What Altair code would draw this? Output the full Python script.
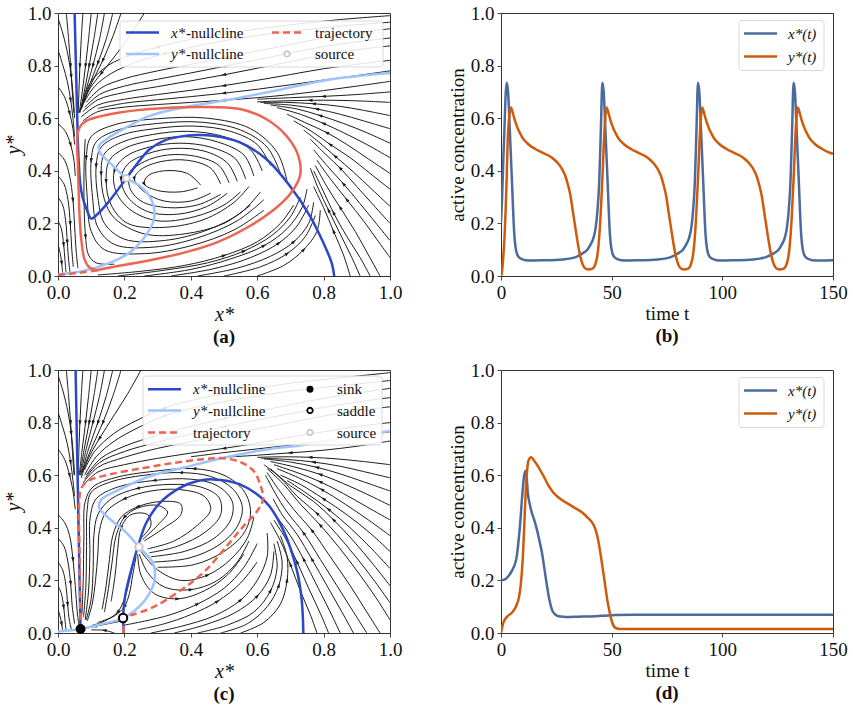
import math

import altair as alt
import pandas as pd

SERIF = "Liberation Serif"
W, H = 332, 263

C_XNULL = "#2d47c7"
C_YNULL = "#9ec4ff"
C_TRAJ = "#ec6550"
C_STREAM = "#1c1c1c"
C_XT = "#4c6a9b"
C_YT = "#cf5a0c"

# ---------------- panel (b): sustained oscillation ----------------
tx_b = [0, 0.5, 1.0, 1.6, 2.1, 2.6, 3.2, 4.0, 5.0, 6.0, 7.0, 8.0, 9.5, 11, 15, 20, 25, 28, 31, 34,
        37, 39, 40.5, 41.8, 42.8, 43.6, 44.4, 45.1, 45.8,
        46.4, 47.2, 48.2, 49.2, 50.2, 51.2, 52.7, 54.2, 58, 63, 68, 71, 74, 77, 80.2, 82.2, 83.7, 85.0,
        86.0, 86.8, 87.6, 88.3, 89.0,
        89.6, 90.4, 91.4, 92.4, 93.4, 94.4, 95.9, 97.4, 101, 106, 111, 114, 117, 120, 123.4, 125.4, 126.9,
        128.2, 129.2, 130.0, 130.8, 131.5, 132.2,
        132.8, 133.6, 134.6, 135.6, 136.6, 137.6, 139.1, 140.6, 145, 150]
x_b = [0.20, 0.30, 0.43, 0.57, 0.69, 0.735, 0.70, 0.55, 0.35, 0.16, 0.09, 0.072, 0.064, 0.060, 0.059, 0.060,
       0.061, 0.063, 0.066, 0.073, 0.087, 0.100, 0.120, 0.145, 0.185, 0.25, 0.36, 0.55, 0.735,
       0.70, 0.55, 0.35, 0.16, 0.09, 0.072, 0.064, 0.060, 0.059, 0.060, 0.061, 0.063, 0.066, 0.073, 0.087,
       0.100, 0.120, 0.145, 0.185, 0.25, 0.36, 0.55, 0.735,
       0.70, 0.55, 0.35, 0.16, 0.09, 0.072, 0.064, 0.060, 0.059, 0.060, 0.061, 0.063, 0.066, 0.073, 0.087,
       0.100, 0.120, 0.145, 0.185, 0.25, 0.36, 0.55, 0.735,
       0.70, 0.55, 0.35, 0.16, 0.09, 0.072, 0.064, 0.060, 0.059, 0.060]
ty_b = [0, 0.5, 1.06, 1.6, 2.1, 2.6, 3.0, 3.5, 4.0, 4.5,
        5.5, 6.5, 9.5, 12.5, 15.5, 18.5, 21.5, 24.0, 26.0, 27.5, 29.0, 30.3, 31.4, 32.4, 33.3, 34.3, 35.2,
        36.1, 37.0, 38.2, 39.7, 41.0, 42.0, 42.8, 43.5, 44.3, 45.0, 45.8, 46.5, 47.1, 47.7,
        48.7, 49.7, 52.7, 55.7, 58.7, 61.7, 64.7, 67.2, 69.2, 70.7, 72.2, 73.5, 74.6, 75.6, 76.5, 77.5, 78.4,
        79.3, 80.2, 81.4, 82.9, 84.2, 85.2, 86.0, 86.7, 87.5, 88.2, 89.0, 89.7, 90.3, 90.9,
        91.9, 92.9, 95.9, 98.9, 101.9, 104.9, 107.9, 110.4, 112.4, 113.9, 115.4, 116.7, 117.8, 118.8, 119.7,
        120.7, 121.6, 122.5, 123.4, 124.6, 126.1, 127.4, 128.4, 129.2, 129.9, 130.7, 131.4, 132.2, 132.9,
        133.5, 134.1,
        135.1, 136.1, 139.1, 142.1, 145.1, 148.1, 150]
y_b = [0.0, 0.02, 0.076, 0.15, 0.25, 0.38, 0.51, 0.585, 0.625, 0.641,
       0.615, 0.585, 0.528, 0.50, 0.483, 0.47, 0.458, 0.443, 0.426, 0.408, 0.382, 0.345, 0.305, 0.25, 0.20,
       0.145, 0.10, 0.065, 0.042, 0.028, 0.025, 0.027, 0.033, 0.05, 0.076, 0.14, 0.23, 0.37, 0.51, 0.60, 0.641,
       0.615, 0.585, 0.528, 0.50, 0.483, 0.47, 0.458, 0.443, 0.426, 0.408, 0.382, 0.345, 0.305, 0.25, 0.20,
       0.145, 0.10, 0.065, 0.042, 0.028, 0.025, 0.027, 0.033, 0.05, 0.076, 0.14, 0.23, 0.37, 0.51, 0.60, 0.641,
       0.615, 0.585, 0.528, 0.50, 0.483, 0.47, 0.458, 0.443, 0.426, 0.408, 0.382, 0.345, 0.305, 0.25, 0.20,
       0.145, 0.10, 0.065, 0.042, 0.028, 0.025, 0.027, 0.033, 0.05, 0.076, 0.14, 0.23, 0.37, 0.51, 0.60, 0.641,
       0.615, 0.585, 0.528, 0.50, 0.483, 0.47, 0.465]

# ---------------- panel (d): excursion then rest ----------------
tx_d = [0, 2, 3.3, 4.5, 5.6, 6.5, 7.1, 7.8, 8.6, 9.7, 10.4, 11.1, 11.6, 12.1, 13.0, 13.9, 15.0, 16.2, 17.4,
        18.5, 19.7, 20.8, 21.9, 23.0, 24.3, 26.0, 28.0, 30.6, 35, 42.7, 47, 51.8, 60, 80, 100, 150]
x_d = [0.2, 0.205, 0.216, 0.23, 0.248, 0.268, 0.29, 0.34, 0.41, 0.534, 0.595, 0.617, 0.59, 0.534, 0.49,
       0.458, 0.43, 0.394, 0.35, 0.305, 0.24, 0.178, 0.125, 0.089, 0.072, 0.064, 0.062, 0.061, 0.062,
       0.064, 0.066, 0.068, 0.069, 0.069, 0.069, 0.069]
ty_d = [0, 0.5, 1.06, 2.6, 4.8, 6.7, 8.2, 9.0, 9.4, 10.0, 10.5, 11.4, 12.4, 13.6, 15.0, 17.0, 19.0, 21.5,
        23.5, 25.3, 28.0, 30.6, 33.5, 36.7, 39.0, 41.2, 42.5, 43.5, 44.7, 45.8, 47.0, 48.0, 49.2, 50.3,
        51.8, 54, 60, 150]
y_d = [0.0, 0.02, 0.038, 0.061, 0.076, 0.10, 0.14, 0.19, 0.229, 0.31, 0.407, 0.572, 0.655, 0.668, 0.655,
       0.63, 0.60, 0.56, 0.535, 0.52, 0.503, 0.49, 0.475, 0.458, 0.44, 0.42, 0.398, 0.369, 0.315, 0.254,
       0.185, 0.127, 0.075, 0.038, 0.019, 0.015, 0.015, 0.015]

# ---------------- panel (a): phase plane with limit cycle ----------------
a_xnull = [(0.050, 1.0), (0.052, 0.9), (0.054, 0.8), (0.056, 0.7), (0.058, 0.6), (0.060, 0.5),
           (0.063, 0.42), (0.067, 0.35), (0.074, 0.3), (0.086, 0.255), (0.1, 0.218), (0.113, 0.228),
           (0.15, 0.278), (0.206, 0.372), (0.24, 0.43), (0.276, 0.482), (0.32, 0.515), (0.367, 0.53),
           (0.42, 0.536), (0.467, 0.533), (0.548, 0.508), (0.628, 0.444), (0.698, 0.343), (0.759, 0.228),
           (0.799, 0.127), (0.824, 0.051), (0.832, 0.0)]
a_ynull = [(0.0, 0.006), (0.075, 0.019), (0.156, 0.05), (0.216, 0.089), (0.256, 0.14), (0.286, 0.203),
           (0.291, 0.241), (0.281, 0.292), (0.246, 0.343), (0.206, 0.372), (0.156, 0.431), (0.126, 0.47),
           (0.124, 0.495), (0.146, 0.52), (0.206, 0.565), (0.276, 0.609), (0.377, 0.641), (0.528, 0.673),
           (0.678, 0.711), (0.829, 0.749), (1.0, 0.772)]
a_traj_start = [(0.0, 0.004), (0.04, 0.009), (0.08, 0.015), (0.12, 0.022)]
a_traj = [(0.116, 0.022), (0.156, 0.032), (0.276, 0.06), (0.377, 0.088), (0.477, 0.127), (0.578, 0.19),
          (0.648, 0.25), (0.698, 0.31), (0.729, 0.381), (0.724, 0.457), (0.688, 0.533), (0.628, 0.596),
          (0.548, 0.635), (0.427, 0.643), (0.276, 0.635), (0.156, 0.615), (0.085, 0.59), (0.065, 0.565),
          (0.058, 0.533), (0.06, 0.419), (0.065, 0.228), (0.07, 0.14), (0.08, 0.063), (0.095, 0.032),
          (0.116, 0.022)]
a_source = [(0.206, 0.372)]
a_streams = [
    # wedge left of the descending branch
    [(0.0, 0.98), (0.015, 0.92), (0.03, 0.84), (0.04, 0.76), (0.046, 0.68), (0.05, 0.6)],
    [(0.025, 1.0), (0.032, 0.9), (0.038, 0.8), (0.043, 0.7), (0.048, 0.62)],
    [(0.0, 0.86), (0.015, 0.8), (0.028, 0.74), (0.038, 0.67), (0.045, 0.6), (0.05, 0.53)],
    [(0.0, 0.72), (0.02, 0.68), (0.035, 0.62), (0.045, 0.56), (0.05, 0.5)],
    [(0.0, 0.58), (0.022, 0.55), (0.038, 0.5), (0.048, 0.44), (0.052, 0.38)],
    # converging onto the descending branch from the right
    [(0.075, 1.0), (0.07, 0.9), (0.066, 0.8), (0.063, 0.7), (0.061, 0.62)],
    [(0.1, 1.0), (0.092, 0.9), (0.083, 0.8), (0.073, 0.7), (0.064, 0.62)],
    [(0.12, 1.0), (0.108, 0.9), (0.094, 0.8), (0.079, 0.7), (0.066, 0.62)],
    [(0.14, 1.0), (0.125, 0.9), (0.105, 0.8), (0.085, 0.71), (0.068, 0.63)],
    [(0.165, 1.0), (0.145, 0.9), (0.12, 0.81), (0.093, 0.72), (0.07, 0.635)],
    [(0.19, 1.0), (0.165, 0.91), (0.135, 0.82), (0.1, 0.73), (0.072, 0.64)],
    [(0.26, 1.0), (0.22, 0.92), (0.18, 0.85), (0.13, 0.77), (0.09, 0.7), (0.068, 0.63)],
    # upper band drifting left
    [(1.0, 0.99), (0.85, 0.975), (0.7, 0.955), (0.55, 0.93), (0.4, 0.9), (0.3, 0.87), (0.22, 0.84),
     (0.15, 0.8), (0.1, 0.74), (0.075, 0.67)],
    [(1.0, 0.965), (0.85, 0.95), (0.7, 0.93), (0.55, 0.905), (0.42, 0.875), (0.32, 0.845), (0.24, 0.815),
     (0.16, 0.77), (0.11, 0.72), (0.078, 0.66)],
    [(1.0, 0.94), (0.9, 0.925), (0.8, 0.905), (0.7, 0.88), (0.6, 0.855), (0.5, 0.83), (0.4, 0.805),
     (0.3, 0.78), (0.2, 0.75), (0.13, 0.715), (0.085, 0.66)],
    [(1.0, 0.905), (0.9, 0.89), (0.8, 0.872), (0.7, 0.848), (0.6, 0.822), (0.5, 0.797), (0.4, 0.772),
     (0.3, 0.748), (0.2, 0.722), (0.125, 0.69), (0.08, 0.64)],
    [(1.0, 0.875), (0.9, 0.86), (0.8, 0.84), (0.7, 0.815), (0.6, 0.79), (0.5, 0.765), (0.4, 0.742),
     (0.3, 0.72), (0.2, 0.698), (0.12, 0.67), (0.075, 0.625)],
    [(1.0, 0.82), (0.9, 0.805), (0.8, 0.788), (0.7, 0.766), (0.6, 0.744), (0.5, 0.724), (0.4, 0.706),
     (0.3, 0.69), (0.2, 0.672), (0.12, 0.65), (0.07, 0.605)],
    [(1.0, 0.78), (0.9, 0.762), (0.8, 0.745), (0.7, 0.727), (0.6, 0.71), (0.5, 0.695), (0.4, 0.682),
     (0.3, 0.67), (0.2, 0.657), (0.12, 0.637)],
    [(1.0, 0.74), (0.9, 0.722), (0.8, 0.705), (0.7, 0.69), (0.6, 0.678), (0.5, 0.668), (0.4, 0.66),
     (0.3, 0.652), (0.2, 0.642), (0.12, 0.625), (0.075, 0.59)],
    [(1.0, 0.7), (0.9, 0.69), (0.8, 0.683), (0.7, 0.678), (0.6, 0.672)],
    # right side, joining the upper flow
    [(1.0, 0.66), (0.92, 0.665), (0.84, 0.668), (0.76, 0.668), (0.68, 0.666), (0.6, 0.662)],
    [(1.0, 0.61), (0.92, 0.63), (0.85, 0.645), (0.77, 0.655), (0.69, 0.66), (0.61, 0.66)],
    [(1.0, 0.56), (0.92, 0.59), (0.85, 0.615), (0.78, 0.635), (0.7, 0.65), (0.62, 0.656)],
    [(1.0, 0.505), (0.93, 0.545), (0.86, 0.58), (0.79, 0.61), (0.72, 0.635), (0.64, 0.65)],
    [(1.0, 0.45), (0.93, 0.5), (0.86, 0.545), (0.8, 0.58), (0.73, 0.615), (0.66, 0.64)],
    [(1.0, 0.39), (0.935, 0.445), (0.87, 0.5), (0.81, 0.545), (0.75, 0.58), (0.69, 0.615)],
    [(1.0, 0.33), (0.94, 0.39), (0.88, 0.45), (0.82, 0.5), (0.77, 0.545), (0.71, 0.59)],
    [(1.0, 0.265), (0.945, 0.33), (0.89, 0.395), (0.835, 0.455), (0.785, 0.51), (0.74, 0.555)],
    [(1.0, 0.2), (0.95, 0.27), (0.9, 0.34), (0.85, 0.41), (0.8, 0.47), (0.76, 0.52)],
    [(1.0, 0.135), (0.955, 0.205), (0.91, 0.275), (0.86, 0.35), (0.81, 0.42), (0.77, 0.48)],
    [(1.0, 0.07), (0.96, 0.14), (0.92, 0.21), (0.87, 0.29), (0.82, 0.37), (0.78, 0.44)],
    [(0.97, 0.0), (0.935, 0.08), (0.895, 0.17), (0.85, 0.26), (0.81, 0.34), (0.775, 0.42)],
    [(0.94, 0.0), (0.91, 0.07), (0.87, 0.15), (0.83, 0.24), (0.8, 0.32), (0.77, 0.4)],
    [(0.91, 0.0), (0.885, 0.07), (0.85, 0.16), (0.815, 0.25), (0.785, 0.33), (0.76, 0.41)],
    [(0.88, 0.0), (0.86, 0.08), (0.83, 0.17), (0.8, 0.26), (0.77, 0.34)],
    # below the cycle, heading right and up
    [(0.6, 0.0), (0.68, 0.04), (0.74, 0.1), (0.78, 0.17), (0.79, 0.25)],
    [(0.5, 0.0), (0.61, 0.035), (0.69, 0.085), (0.745, 0.15), (0.775, 0.23)],
    [(0.42, 0.0), (0.54, 0.03), (0.64, 0.075), (0.71, 0.13), (0.755, 0.2), (0.77, 0.28)],
    [(0.34, 0.0), (0.47, 0.028), (0.58, 0.07), (0.665, 0.125), (0.72, 0.19), (0.755, 0.27)],
    [(0.26, 0.0), (0.4, 0.025), (0.52, 0.065), (0.62, 0.115), (0.69, 0.18), (0.735, 0.26), (0.75, 0.33)],
    [(0.18, 0.0), (0.32, 0.022), (0.45, 0.05), (0.56, 0.095), (0.645, 0.155), (0.7, 0.225), (0.73, 0.3)],
    [(0.12, 0.004), (0.25, 0.018), (0.38, 0.04), (0.5, 0.078), (0.6, 0.13), (0.67, 0.2), (0.71, 0.27)],
    # strip left of the descending branch, bottom
    [(0.0, 0.47), (0.02, 0.44), (0.035, 0.38), (0.045, 0.29), (0.05, 0.19), (0.055, 0.09), (0.06, 0.03)],
    [(0.0, 0.38), (0.018, 0.35), (0.03, 0.29), (0.037, 0.2), (0.041, 0.11), (0.046, 0.035)],
    [(0.0, 0.3), (0.014, 0.27), (0.023, 0.21), (0.028, 0.13), (0.032, 0.06), (0.036, 0.015)],
    [(0.0, 0.21), (0.01, 0.18), (0.017, 0.12), (0.021, 0.06), (0.024, 0.015)],
    [(0.0, 0.12), (0.006, 0.09), (0.011, 0.05), (0.014, 0.012)],
    [(0.082, 0.52), (0.079, 0.44), (0.078, 0.35), (0.079, 0.25), (0.083, 0.15), (0.092, 0.08),
     (0.115, 0.05), (0.17, 0.045)],
    # inside the cycle: loops unwinding from the source
    [(0.69, 0.36), (0.66, 0.47), (0.58, 0.56), (0.45, 0.6), (0.3, 0.598), (0.17, 0.575), (0.1, 0.53),
     (0.085, 0.45), (0.088, 0.3), (0.1, 0.17), (0.14, 0.1), (0.26, 0.085), (0.4, 0.115), (0.53, 0.175),
     (0.62, 0.25)],
    [(0.67, 0.39), (0.63, 0.49), (0.55, 0.555), (0.43, 0.585), (0.3, 0.58), (0.18, 0.555), (0.115, 0.51),
     (0.1, 0.44), (0.104, 0.3), (0.12, 0.185), (0.17, 0.12), (0.29, 0.11), (0.42, 0.145), (0.54, 0.21),
     (0.62, 0.29)],
    [(0.64, 0.42), (0.6, 0.5), (0.52, 0.55), (0.41, 0.57), (0.29, 0.56), (0.19, 0.535), (0.13, 0.49),
     (0.115, 0.42), (0.12, 0.3), (0.14, 0.2), (0.2, 0.14), (0.32, 0.135), (0.45, 0.175), (0.55, 0.24),
     (0.61, 0.32)],
    [(0.615, 0.4), (0.58, 0.48), (0.5, 0.53), (0.39, 0.55), (0.285, 0.538), (0.195, 0.51), (0.14, 0.465),
     (0.13, 0.39), (0.14, 0.29), (0.17, 0.22), (0.26, 0.16), (0.38, 0.16), (0.5, 0.2), (0.58, 0.27)],
    [(0.59, 0.38), (0.56, 0.46), (0.48, 0.51), (0.38, 0.53), (0.28, 0.515), (0.2, 0.485), (0.155, 0.44),
     (0.145, 0.36), (0.16, 0.27), (0.21, 0.2), (0.32, 0.185), (0.44, 0.215), (0.53, 0.28), (0.575, 0.34)],
    [(0.565, 0.37), (0.535, 0.445), (0.46, 0.49), (0.365, 0.505), (0.275, 0.49), (0.205, 0.455),
     (0.17, 0.4), (0.175, 0.32), (0.22, 0.25), (0.3, 0.21), (0.41, 0.225), (0.5, 0.27), (0.55, 0.32)],
    [(0.54, 0.36), (0.51, 0.43), (0.44, 0.475), (0.35, 0.485), (0.27, 0.465), (0.21, 0.425), (0.19, 0.37),
     (0.21, 0.3), (0.27, 0.245), (0.36, 0.235), (0.45, 0.265), (0.51, 0.315)],
    [(0.515, 0.355), (0.485, 0.42), (0.415, 0.455), (0.33, 0.46), (0.26, 0.435), (0.22, 0.395),
     (0.215, 0.34), (0.25, 0.285), (0.33, 0.26), (0.42, 0.27), (0.49, 0.31)],
    [(0.49, 0.35), (0.46, 0.41), (0.39, 0.44), (0.31, 0.435), (0.25, 0.405), (0.23, 0.37), (0.26, 0.32),
     (0.32, 0.285), (0.4, 0.285), (0.46, 0.315)],
    [(0.43, 0.345), (0.39, 0.39), (0.32, 0.4), (0.27, 0.38), (0.26, 0.35), (0.3, 0.325), (0.37, 0.32),
     (0.42, 0.335)],
]

# ---------------- panel (c): phase plane with sink, saddle and source ----------------
c_xnull_left = [(0.053, 1.0), (0.056, 0.8), (0.059, 0.6), (0.062, 0.4), (0.065, 0.2), (0.067, 0.08),
                (0.068, 0.015), (0.069, 0.0)]
c_xnull_right = [(0.198, 0.0), (0.197, 0.03), (0.196, 0.057), (0.2, 0.12), (0.206, 0.165), (0.221, 0.241),
                 (0.241, 0.33), (0.266, 0.419), (0.307, 0.495), (0.367, 0.552), (0.42, 0.578), (0.467, 0.584),
                 (0.548, 0.565), (0.628, 0.495), (0.678, 0.393), (0.719, 0.241), (0.734, 0.127), (0.739, 0.0)]
c_ynull = [(0.0, 0.006), (0.068, 0.015), (0.126, 0.032), (0.196, 0.057), (0.246, 0.102), (0.276, 0.152),
           (0.291, 0.203), (0.286, 0.266), (0.244, 0.327), (0.206, 0.381), (0.146, 0.444), (0.124, 0.476),
           (0.131, 0.508), (0.186, 0.546), (0.276, 0.596), (0.377, 0.628), (0.477, 0.66), (0.628, 0.698),
           (0.729, 0.713), (0.829, 0.736), (1.0, 0.768)]
c_traj = [(0.198, 0.0), (0.197, 0.03), (0.2, 0.06), (0.22, 0.068), (0.246, 0.078), (0.29, 0.1),
          (0.327, 0.127), (0.387, 0.178), (0.447, 0.241), (0.508, 0.33), (0.558, 0.405), (0.598, 0.46),
          (0.618, 0.51), (0.61, 0.56), (0.59, 0.615), (0.55, 0.65), (0.49, 0.665), (0.43, 0.66),
          (0.35, 0.647), (0.256, 0.627), (0.156, 0.603), (0.09, 0.578), (0.07, 0.55), (0.064, 0.5),
          (0.065, 0.3), (0.067, 0.1), (0.068, 0.015)]
c_sink = [(0.068, 0.015)]
c_saddle = [(0.196, 0.057)]
c_source = [(0.244, 0.327)]
c_streams = [
    # wedge left of the descending branch
    [(0.0, 0.98), (0.015, 0.92), (0.03, 0.84), (0.04, 0.76), (0.046, 0.68), (0.05, 0.6)],
    [(0.025, 1.0), (0.032, 0.9), (0.038, 0.8), (0.043, 0.7), (0.048, 0.6)],
    [(0.0, 0.84), (0.015, 0.78), (0.028, 0.72), (0.038, 0.65), (0.045, 0.58), (0.05, 0.52)],
    [(0.0, 0.7), (0.02, 0.66), (0.035, 0.6), (0.045, 0.54), (0.052, 0.47)],
    # converging onto the descending branch from the right
    [(0.075, 1.0), (0.07, 0.9), (0.066, 0.8), (0.063, 0.7), (0.061, 0.6)],
    [(0.1, 1.0), (0.092, 0.9), (0.083, 0.8), (0.073, 0.7), (0.064, 0.6)],
    [(0.12, 1.0), (0.108, 0.9), (0.094, 0.8), (0.079, 0.7), (0.066, 0.6)],
    [(0.14, 1.0), (0.125, 0.9), (0.105, 0.8), (0.085, 0.7), (0.068, 0.6)],
    [(0.165, 1.0), (0.145, 0.9), (0.12, 0.8), (0.092, 0.7), (0.07, 0.6)],
    [(0.19, 1.0), (0.165, 0.9), (0.135, 0.8), (0.1, 0.7), (0.072, 0.61)],
    [(0.25, 1.0), (0.21, 0.91), (0.17, 0.83), (0.125, 0.74), (0.09, 0.66), (0.07, 0.59)],
    # upper band drifting left
    [(1.0, 0.99), (0.85, 0.97), (0.7, 0.95), (0.55, 0.92), (0.42, 0.89), (0.32, 0.855), (0.24, 0.81),
     (0.17, 0.76), (0.11, 0.69), (0.08, 0.62)],
    [(1.0, 0.96), (0.85, 0.94), (0.7, 0.92), (0.55, 0.89), (0.42, 0.86), (0.32, 0.825), (0.24, 0.78),
     (0.17, 0.73), (0.115, 0.67), (0.08, 0.6)],
    [(1.0, 0.93), (0.9, 0.912), (0.8, 0.892), (0.7, 0.868), (0.6, 0.842), (0.5, 0.815), (0.4, 0.785),
     (0.3, 0.752), (0.2, 0.71), (0.13, 0.665), (0.085, 0.6)],
    [(1.0, 0.895), (0.9, 0.878), (0.8, 0.858), (0.7, 0.834), (0.6, 0.81), (0.5, 0.784), (0.4, 0.756),
     (0.3, 0.726), (0.2, 0.69), (0.125, 0.648), (0.08, 0.585)],
    [(1.0, 0.86), (0.9, 0.845), (0.8, 0.825), (0.7, 0.8), (0.6, 0.776), (0.5, 0.752), (0.4, 0.728),
     (0.3, 0.702), (0.2, 0.668), (0.12, 0.63), (0.075, 0.57)],
    [(1.0, 0.8), (0.9, 0.785), (0.8, 0.765), (0.7, 0.745), (0.6, 0.722), (0.5, 0.702), (0.4, 0.684),
     (0.3, 0.664), (0.2, 0.64), (0.12, 0.612), (0.075, 0.56)],
    [(1.0, 0.765), (0.9, 0.748), (0.8, 0.73), (0.7, 0.714), (0.6, 0.7), (0.5, 0.686), (0.4, 0.67)],
    [(1.0, 0.73), (0.9, 0.71), (0.8, 0.695), (0.7, 0.685), (0.6, 0.676), (0.5, 0.668)],
    # right side, curling onto the outer edge of the trajectory
    [(1.0, 0.64), (0.92, 0.652), (0.84, 0.662), (0.76, 0.668), (0.68, 0.67), (0.6, 0.668)],
    [(1.0, 0.59), (0.92, 0.614), (0.85, 0.634), (0.77, 0.65), (0.69, 0.66), (0.61, 0.665)],
    [(1.0, 0.54), (0.92, 0.575), (0.85, 0.605), (0.78, 0.63), (0.7, 0.65), (0.62, 0.662)],
    [(1.0, 0.485), (0.93, 0.528), (0.86, 0.568), (0.79, 0.603), (0.71, 0.632), (0.64, 0.652)],
    [(1.0, 0.43), (0.93, 0.48), (0.86, 0.53), (0.79, 0.575), (0.72, 0.61), (0.65, 0.64)],
    [(1.0, 0.37), (0.935, 0.43), (0.865, 0.49), (0.795, 0.545), (0.725, 0.59), (0.66, 0.625)],
    [(1.0, 0.31), (0.94, 0.38), (0.87, 0.45), (0.8, 0.51), (0.73, 0.565), (0.67, 0.6)],
    [(1.0, 0.245), (0.945, 0.32), (0.88, 0.4), (0.815, 0.47), (0.75, 0.53), (0.69, 0.58)],
    [(1.0, 0.18), (0.95, 0.26), (0.89, 0.35), (0.83, 0.43), (0.77, 0.5), (0.7, 0.56), (0.64, 0.625)],
    [(1.0, 0.115), (0.955, 0.195), (0.9, 0.285), (0.84, 0.375), (0.78, 0.455), (0.72, 0.52), (0.67, 0.59),
     (0.62, 0.64)],
    [(1.0, 0.05), (0.96, 0.13), (0.91, 0.22), (0.85, 0.32), (0.79, 0.41), (0.73, 0.49), (0.68, 0.565),
     (0.63, 0.625)],
    [(0.97, 0.0), (0.93, 0.08), (0.88, 0.18), (0.82, 0.29), (0.765, 0.39), (0.71, 0.47), (0.665, 0.545),
     (0.63, 0.61)],
    [(0.93, 0.0), (0.89, 0.08), (0.84, 0.18), (0.79, 0.28), (0.74, 0.38), (0.69, 0.46), (0.655, 0.53),
     (0.625, 0.6)],
    [(0.89, 0.0), (0.855, 0.08), (0.81, 0.18), (0.765, 0.28), (0.72, 0.375), (0.675, 0.45), (0.648, 0.51)],
    [(0.85, 0.0), (0.82, 0.08), (0.78, 0.18), (0.74, 0.28), (0.7, 0.37), (0.66, 0.44)],
    [(0.815, 0.0), (0.79, 0.075), (0.755, 0.17), (0.72, 0.27), (0.685, 0.36), (0.65, 0.43)],
    [(0.78, 0.0), (0.76, 0.07), (0.73, 0.16), (0.7, 0.26), (0.67, 0.35), (0.64, 0.42)],
    # between the right branch and the trajectory
    [(0.55, 0.0), (0.62, 0.04), (0.67, 0.11), (0.69, 0.2), (0.69, 0.29), (0.67, 0.37)],
    [(0.49, 0.0), (0.57, 0.035), (0.63, 0.1), (0.665, 0.18), (0.675, 0.27), (0.66, 0.35)],
    [(0.42, 0.0), (0.51, 0.03), (0.59, 0.08), (0.64, 0.16), (0.66, 0.25), (0.65, 0.34)],
    [(0.35, 0.0), (0.44, 0.03), (0.53, 0.075), (0.6, 0.14), (0.64, 0.22), (0.65, 0.31)],
    [(0.28, 0.0), (0.37, 0.025), (0.47, 0.065), (0.55, 0.125), (0.6, 0.2), (0.63, 0.29), (0.63, 0.38)],
    [(0.24, 0.012), (0.32, 0.035), (0.4, 0.07), (0.48, 0.12), (0.55, 0.19), (0.6, 0.27)],
    [(0.2, 0.03), (0.26, 0.045), (0.34, 0.07), (0.42, 0.11), (0.5, 0.17), (0.56, 0.25), (0.6, 0.34)],
    # leaving the source to the right
    [(0.25, 0.31), (0.3, 0.24), (0.37, 0.2), (0.45, 0.22), (0.52, 0.28), (0.57, 0.36), (0.59, 0.44)],
    [(0.245, 0.3), (0.27, 0.23), (0.32, 0.175), (0.4, 0.165), (0.48, 0.2), (0.54, 0.27), (0.575, 0.35)],
    [(0.24, 0.3), (0.25, 0.22), (0.29, 0.15), (0.36, 0.13), (0.44, 0.16), (0.51, 0.22), (0.56, 0.3)],
    # loops around the source that drain down to the sink
    [(0.27, 0.32), (0.35, 0.35), (0.42, 0.41), (0.46, 0.47), (0.44, 0.52), (0.37, 0.545), (0.28, 0.54),
     (0.2, 0.51), (0.145, 0.46), (0.125, 0.39), (0.12, 0.3), (0.113, 0.2), (0.103, 0.11), (0.088, 0.045)],
    [(0.275, 0.305), (0.36, 0.33), (0.445, 0.385), (0.49, 0.45), (0.485, 0.515), (0.43, 0.555),
     (0.34, 0.565), (0.24, 0.55), (0.16, 0.51), (0.12, 0.45), (0.108, 0.37), (0.106, 0.25), (0.1, 0.13),
     (0.085, 0.05)],
    [(0.28, 0.29), (0.38, 0.31), (0.47, 0.36), (0.52, 0.43), (0.525, 0.5), (0.48, 0.56), (0.4, 0.585),
     (0.29, 0.58), (0.18, 0.555), (0.115, 0.51), (0.097, 0.44), (0.096, 0.3), (0.092, 0.16), (0.082, 0.05)],
    [(0.29, 0.27), (0.395, 0.285), (0.485, 0.335), (0.54, 0.405), (0.555, 0.48), (0.525, 0.55),
     (0.46, 0.595), (0.37, 0.61), (0.26, 0.6), (0.16, 0.575), (0.1, 0.535), (0.088, 0.47), (0.086, 0.33),
     (0.084, 0.18), (0.077, 0.06)],
    [(0.3, 0.25), (0.41, 0.26), (0.5, 0.31), (0.56, 0.38), (0.58, 0.46), (0.56, 0.54), (0.5, 0.6),
     (0.41, 0.625), (0.29, 0.615), (0.17, 0.59), (0.105, 0.555), (0.082, 0.5), (0.078, 0.36),
     (0.076, 0.2), (0.072, 0.07)],
    [(0.26, 0.35), (0.32, 0.4), (0.37, 0.45), (0.37, 0.49), (0.31, 0.5), (0.24, 0.48), (0.19, 0.44),
     (0.165, 0.37), (0.155, 0.28), (0.145, 0.18), (0.133, 0.09)],
    [(0.255, 0.355), (0.3, 0.41), (0.33, 0.46), (0.3, 0.485), (0.24, 0.475), (0.2, 0.44), (0.175, 0.37),
     (0.163, 0.27), (0.152, 0.17), (0.14, 0.08)],
    [(0.25, 0.36), (0.28, 0.41), (0.27, 0.45), (0.22, 0.45), (0.19, 0.4), (0.18, 0.32), (0.172, 0.22),
     (0.16, 0.12)],
    # between source and saddle, toward the sink
    [(0.235, 0.29), (0.225, 0.22), (0.215, 0.15), (0.2, 0.1), (0.17, 0.065), (0.12, 0.04)],
    [(0.23, 0.29), (0.215, 0.2), (0.2, 0.13), (0.18, 0.08), (0.14, 0.045), (0.1, 0.028)],
    [(0.19, 0.045), (0.15, 0.035), (0.11, 0.025), (0.085, 0.019)],
    [(0.17, 0.0), (0.14, 0.01), (0.1, 0.012)],
    # strip left of the descending branch, bottom
    [(0.0, 0.45), (0.02, 0.42), (0.035, 0.37), (0.045, 0.28), (0.052, 0.18), (0.058, 0.08), (0.063, 0.03)],
    [(0.0, 0.36), (0.018, 0.33), (0.03, 0.27), (0.038, 0.19), (0.043, 0.1), (0.05, 0.035)],
    [(0.0, 0.27), (0.014, 0.24), (0.024, 0.18), (0.029, 0.11), (0.034, 0.05), (0.04, 0.015)],
    [(0.0, 0.18), (0.01, 0.15), (0.017, 0.1), (0.021, 0.05), (0.024, 0.012)],
    [(0.0, 0.09), (0.006, 0.065), (0.011, 0.035), (0.014, 0.01)],
]


# ---------------- helpers ----------------
def path_df(points, sid=0):
    return pd.DataFrame({"sid": sid, "k": list(range(len(points))),
                         "x": [p[0] for p in points], "y": [p[1] for p in points]})


def streams_df(streams):
    return pd.concat([path_df(s, i) for i, s in enumerate(streams)], ignore_index=True)


def arrows_df(streams):
    rows = []
    for s in streams:
        m = len(s) // 2
        (x0, y0), (x1, y1) = s[m - 1], s[m + 1] if m + 1 < len(s) else s[m]
        ang = math.degrees(math.atan2((x1 - x0) * W, (y1 - y0) * H)) % 360
        rows.append({"x": s[m][0], "y": s[m][1], "ang": ang})
    return pd.DataFrame(rows)


AX_COMMON = dict(labelFont=SERIF, labelFontSize=19, labelColor="#111", tickColor="#333", tickSize=4,
                 tickWidth=0.9, domain=False, grid=False, labelFlush=False, labelOverlap=False,
                 titleFont=SERIF, titleColor="#111", titleFontWeight="normal", labelPadding=3)
UNIT_TICKS = [0, 0.2, 0.4, 0.6, 0.8, 1.0]
UNIT = alt.Scale(domain=[0, 1], nice=False, zero=False)


def phase_xy():
    return dict(
        x=alt.X("x:Q", scale=UNIT, axis=alt.Axis(values=UNIT_TICKS, format=".1f", title="x*",
                                                titleFontStyle="italic", titleFontSize=20, titlePadding=2,
                                                **AX_COMMON)),
        y=alt.Y("y:Q", scale=UNIT, axis=alt.Axis(values=UNIT_TICKS, format=".1f", title="y*",
                                                titleFontStyle="italic", titleFontSize=20, titlePadding=4,
                                                **AX_COMMON)),
    )


def curve(points, color, width=2.5, dash=None):
    kw = dict(color=color, strokeWidth=width, interpolate="catmull-rom", clip=True)
    if dash:
        kw["strokeDash"] = dash
    return alt.Chart(path_df(points)).mark_line(**kw).encode(order=alt.Order("k:Q"), **phase_xy())


def dots(points, fill, stroke, size, sw=1.8):
    return alt.Chart(path_df(points)).mark_point(
        shape="circle", filled=True, fill=fill, stroke=stroke, strokeWidth=sw, size=size, opacity=1
    ).encode(**phase_xy())


ONE = pd.DataFrame({"_": [0]})


def lg_box(x0, x1, y0, y1):
    return alt.Chart(ONE).mark_rect(fill="white", fillOpacity=0.88, stroke="#d6d6d6", strokeWidth=0.9,
                                    cornerRadius=3).encode(
        x=alt.value(x0), x2=alt.value(x1), y=alt.value(y0), y2=alt.value(y1))


def lg_line(x0, x1, y, color, dash=None):
    kw = dict(color=color, strokeWidth=2.5)
    if dash:
        kw["strokeDash"] = dash
    return alt.Chart(ONE).mark_rule(**kw).encode(x=alt.value(x0), x2=alt.value(x1), y=alt.value(y))


def lg_text(x, y, text, style="normal", size=15):
    return alt.Chart(ONE).mark_text(text=text, align="left", baseline="middle", font=SERIF, fontSize=size,
                                    fontStyle=style, color="#111").encode(x=alt.value(x), y=alt.value(y))


def lg_dot(x, y, fill, stroke, size=40, sw=1.8):
    return alt.Chart(ONE).mark_point(shape="circle", filled=True, fill=fill, stroke=stroke, strokeWidth=sw,
                                     size=size, opacity=1).encode(x=alt.value(x), y=alt.value(y))


def nullcline_labels(x, y1, y2):
    return [lg_text(x, y1, "x*", "italic"), lg_text(x + 15, y1, "-nullcline"),
            lg_text(x, y2, "y*", "italic"), lg_text(x + 15, y2, "-nullcline")]


def panel_title(t):
    return alt.TitleParams(t, orient="bottom", font=SERIF, fontSize=19, fontWeight="bold", color="#111",
                           offset=4)


ARROW = "M0,-1L0.6,0.8L-0.6,0.8Z"


def phase_panel(streams, layers, legend, label):
    sdf = streams_df(streams)
    lines = alt.Chart(sdf).mark_line(color=C_STREAM, strokeWidth=1.0, interpolate="catmull-rom",
                                     clip=True).encode(detail="sid:N", order=alt.Order("k:Q"), **phase_xy())
    heads = alt.Chart(arrows_df(streams)).mark_point(shape=ARROW, filled=True, color=C_STREAM, size=30,
                                                     opacity=1, clip=True).encode(
        angle=alt.Angle("ang:Q", scale=None), **phase_xy())
    return alt.layer(lines, heads, *layers, *legend).properties(width=W, height=H, title=panel_title(label))


def time_panel(tx, xs, ty, ys, label):
    xa = alt.X("t:Q", scale=alt.Scale(domain=[0, 150], nice=False),
               axis=alt.Axis(values=[0, 50, 100, 150], format="d", title="time t", titleFontSize=19,
                             titlePadding=2, **AX_COMMON))
    ya = alt.Y("v:Q", scale=UNIT,
               axis=alt.Axis(values=UNIT_TICKS, format=".1f", title="active concentration", titleFontSize=19,
                             titlePadding=3, **AX_COMMON))
    lx = alt.Chart(pd.DataFrame({"t": tx, "v": xs})).mark_line(color=C_XT, strokeWidth=2.5,
                                                               interpolate="monotone", clip=True).encode(x=xa, y=ya)
    ly = alt.Chart(pd.DataFrame({"t": ty, "v": ys})).mark_line(color=C_YT, strokeWidth=2.5,
                                                               interpolate="monotone", clip=True).encode(x=xa, y=ya)
    legend = [lg_box(238, 323, 7.5, 57.5),
              lg_line(243, 276, 20.5, C_XT), lg_line(243, 276, 43.5, C_YT),
              lg_text(287, 20.5, "x*(t)", "italic"), lg_text(287, 43.5, "y*(t)", "italic")]
    return alt.layer(lx, ly, *legend).properties(width=W, height=H, title=panel_title(label))


# ---------------- panels ----------------
legend_a = [lg_box(62, 325, 8, 54),
            lg_line(68, 101, 19.5, C_XNULL), lg_line(68, 101, 41, C_YNULL),
            lg_line(214, 245, 19.5, C_TRAJ, [7, 4]),
            lg_dot(229, 41, "white", "#c8c8c8", 30, 1.8),
            *nullcline_labels(113, 19.5, 41),
            lg_text(257, 19.5, "trajectory"), lg_text(257, 41, "source")]
panel_a = phase_panel(
    a_streams,
    [curve(a_ynull, C_YNULL), curve(a_xnull, C_XNULL),
     curve(a_traj_start, C_TRAJ, 2.5, [7, 4]), curve(a_traj, C_TRAJ),
     dots(a_source, "white", "#c8c8c8", 45)],
    legend_a, "(a)")

legend_c = [lg_box(85, 324, 6, 75),
            lg_line(90, 123, 19.3, C_XNULL), lg_line(90, 123, 40.5, C_YNULL),
            lg_line(90, 123, 62.5, C_TRAJ, [7, 4]),
            *nullcline_labels(135, 19.3, 40.5),
            lg_text(135, 62.5, "trajectory"),
            lg_dot(252, 19.3, "black", "black", 30, 1.5),
            lg_dot(252, 40.5, "white", "black", 30, 1.8),
            lg_dot(252, 62.5, "white", "#c8c8c8", 30, 1.8),
            lg_text(279, 19.3, "sink"), lg_text(279, 40.5, "saddle"), lg_text(279, 62.5, "source")]
panel_c = phase_panel(
    c_streams,
    [curve(c_ynull, C_YNULL), curve(c_xnull_left, C_XNULL), curve(c_xnull_right, C_XNULL),
     curve(c_traj, C_TRAJ, 2.5, [7, 4]),
     dots(c_sink, "black", "black", 70, 1.5), dots(c_saddle, "white", "black", 70, 2.0),
     dots(c_source, "white", "#c8c8c8", 55, 2.0)],
    legend_c, "(c)")

panel_b = time_panel(tx_b, x_b, ty_b, y_b, "(b)")
panel_d = time_panel(tx_d, x_d, ty_d, y_d, "(d)")

chart = alt.vconcat(
    alt.hconcat(panel_a, panel_b, spacing=44),
    alt.hconcat(panel_c, panel_d, spacing=44),
    spacing=12,
).configure_view(stroke="#333", strokeWidth=1).properties(
    padding={"left": 2, "top": 3, "right": 0, "bottom": 0}, background="white")

chart.save("out.html", embed_options={"renderer": "svg", "actions": False})
